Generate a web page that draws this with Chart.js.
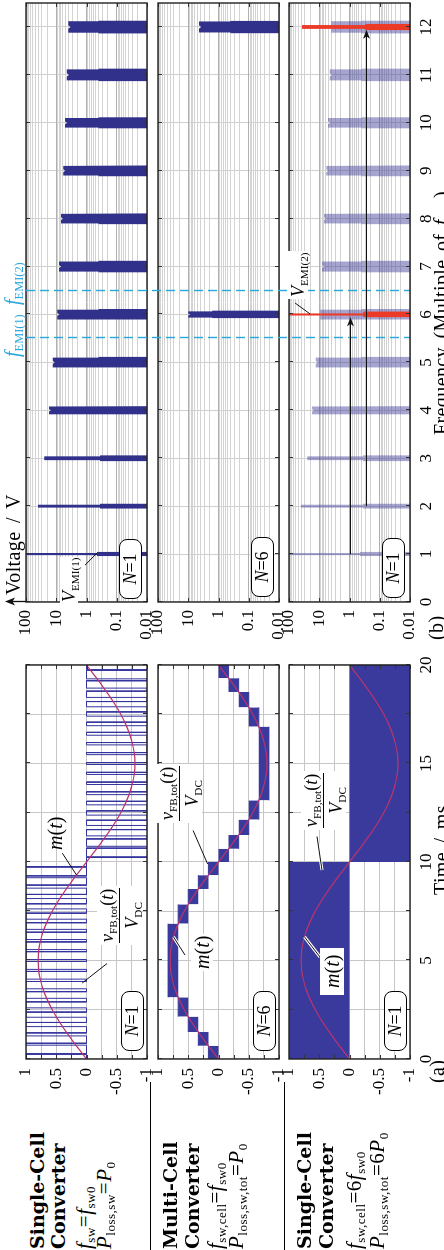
<!DOCTYPE html>
<html>
<head>
<meta charset="utf-8">
<script src="https://cdn.jsdelivr.net/npm/chart.js@4.4.1/dist/chart.umd.min.js"></script>
<style>
  html, body { margin:0; padding:0; background:#fff; width:444px; height:1250px; overflow:hidden; }
  #page { position:absolute; left:0; top:0; width:1250px; height:444px; transform-origin:0 0;
          transform:translate(0px,1250px) rotate(-90deg); background:#fff; overflow:hidden;
          font-family:'Liberation Serif','Times New Roman',serif; color:#000; }
  #page canvas { position:absolute; top:0; }
  .t { position:absolute; white-space:nowrap; line-height:1; }
  .t sub { font-size:0.62em; vertical-align:baseline; position:relative; top:0.32em; line-height:0; }
  .cap { font-family:'DejaVu Serif',serif; font-weight:bold; font-size:19px; }
  .eq { font-size:21px; letter-spacing:0.5px; }
  .frac { text-align:center; font-size:18px; background:#fff; padding:1px 2px; }
  .frac .num { border-bottom:1px solid #000; padding:0 1px 3px; }
  .frac .den { padding-top:3px; }
  .wb { background:#fff; font-size:20px; }
  .box { border:1.2px solid #000; border-radius:8px; background:#fff; font-size:18px; text-align:center;
         height:21px; line-height:21px; width:58px; }
  .sep { position:absolute; left:0; width:168px; height:0; border-top:1.3px solid #000; }
  .cyan { color:#2ba6de; font-size:20px; }
  .ax { font-size:20px; letter-spacing:0.4px; word-spacing:3px; }
</style>
</head>
<body>
<div id="page">
  <canvas id="timeN1" width="460" height="444" style="left:140px"></canvas>
  <canvas id="timeN6" width="460" height="444" style="left:140px"></canvas>
  <canvas id="timeHF" width="460" height="444" style="left:140px"></canvas>
  <canvas id="specN1" width="650" height="444" style="left:600px"></canvas>
  <canvas id="specN6" width="650" height="444" style="left:600px"></canvas>
  <canvas id="specHF" width="650" height="444" style="left:600px"></canvas>

  <!-- converter captions -->
  <div class="t cap" style="left:1px;top:28px">Single-Cell</div>
  <div class="t cap" style="left:1px;top:49px">Converter</div>
  <div class="t eq" style="left:1px;top:74px"><i>f</i><sub>sw</sub>=<i>f</i><sub>sw0</sub></div>
  <div class="t eq" style="left:1px;top:94px"><i>P</i><sub>loss,sw</sub>=<i>P</i><sub>0</sub></div>
  <div class="sep" style="top:150px"></div>

  <div class="t cap" style="left:1px;top:161px">Multi-Cell</div>
  <div class="t cap" style="left:1px;top:183px">Converter</div>
  <div class="t eq" style="left:1px;top:205px"><i>f</i><sub>sw,cell</sub>=<i>f</i><sub>sw0</sub></div>
  <div class="t eq" style="left:1px;top:226px"><i>P</i><sub>loss,sw,tot</sub>=<i>P</i><sub>0</sub></div>
  <div class="sep" style="top:284px"></div>

  <div class="t cap" style="left:1px;top:295px">Single-Cell</div>
  <div class="t cap" style="left:1px;top:317px">Converter</div>
  <div class="t eq" style="left:1px;top:344px"><i>f</i><sub>sw,cell</sub>=6<i>f</i><sub>sw0</sub></div>
  <div class="t eq" style="left:1px;top:367px"><i>P</i><sub>loss,sw,tot</sub>=6<i>P</i><sub>0</sub></div>

  <!-- time-domain annotations -->
  <div class="t frac" style="left:305px;top:97px"><div class="num"><i>v</i><sub>FB,tot</sub>(<i>t</i>)</div><div class="den"><i>V</i><sub>DC</sub></div></div>
  <div class="t wb" style="left:400px;top:45px;background:none"><i>m</i>(<i>t</i>)</div>
  <div class="t box" style="left:199px;top:121px"><i>N</i>=1</div>

  <div class="t frac" style="left:427px;top:157px"><div class="num"><i>v</i><sub>FB,tot</sub>(<i>t</i>)</div><div class="den"><i>V</i><sub>DC</sub></div></div>
  <div class="t wb" style="left:279px;top:191px;padding:1px 2px"><i>m</i>(<i>t</i>)</div>
  <div class="t box" style="left:199px;top:253px"><i>N</i>=6</div>

  <div class="t frac" style="left:420px;top:301px"><div class="num"><i>v</i><sub>FB,tot</sub>(<i>t</i>)</div><div class="den"><i>V</i><sub>DC</sub></div></div>
  <div class="t wb" style="left:255px;top:320px;padding:2px 7px"><i>m</i>(<i>t</i>)</div>
  <div class="t box" style="left:199px;top:384px"><i>N</i>=1</div>

  <!-- spectrum annotations -->
  <div class="t ax" style="left:655px;top:3px">Voltage / V</div>
  <div class="t cyan" style="left:893px;top:2px"><i>f</i><sub>EMI(1)</sub></div>
  <div class="t cyan" style="left:945px;top:2px"><i>f</i><sub>EMI(2)</sub></div>
  <div class="t wb" style="left:647px;top:60px;font-size:18px;padding:0 1px"><i>V</i><sub>EMI(1)</sub></div>
  <div class="t box" style="left:651px;top:119px"><i>N</i>=1</div>
  <div class="t box" style="left:653px;top:251px"><i>N</i>=6</div>
  <div class="t box" style="left:652px;top:382px"><i>N</i>=1</div>
  <div class="t wb" style="left:951px;top:288px;font-size:18px;padding:1px 2px"><i>V</i><sub>EMI(2)</sub></div>

  <!-- axis titles -->
  <div class="t ax" style="left:167px;top:427px">(a)</div>
  <div class="t ax" style="left:355px;top:431px">Time / ms</div>
  <div class="t ax" style="left:610px;top:426px">(b)</div>
  <div class="t ax" style="left:637px;width:600px;text-align:center;top:431px">Frequency (Multiple of <i>f</i><sub>sw0</sub>)</div>
</div>

<script>
// ---------------- (a) time domain ----------------
const timeGrid = [0, 2.5, 5, 7.5, 10, 12.5, 15, 17.5, 20];
const timeTickLabels = ['0', '', '5', '', '10', '', '15', '', '20'];
const ampGrid = [-1, -0.75, -0.5, -0.25, 0, 0.25, 0.5, 0.75, 1];
const ampTickLabels = ['-1', '', '-0.5', '', '0', '', '0.5', '', '1'];

// modulation index m(t), one sample every 0.5 ms
const mStepMs = 0.5;
const modulation = [0, 0.125, 0.247, 0.363, 0.470, 0.566, 0.647, 0.713, 0.761, 0.790, 0.800,
  0.790, 0.761, 0.713, 0.647, 0.566, 0.470, 0.363, 0.247, 0.125, 0,
  -0.125, -0.247, -0.363, -0.470, -0.566, -0.647, -0.713, -0.761, -0.790, -0.800,
  -0.790, -0.761, -0.713, -0.647, -0.566, -0.470, -0.363, -0.247, -0.125, 0];

// single cell at f_sw0: one pulse per 0.5 ms slot, signed duty cycle
const pulseSlotMs = 0.5;
const pulseDutyN1 = [0.06, 0.19, 0.31, 0.42, 0.52, 0.61, 0.68, 0.74, 0.78, 0.80,
  0.80, 0.78, 0.74, 0.68, 0.61, 0.52, 0.42, 0.31, 0.19, 0.06,
  -0.06, -0.19, -0.31, -0.42, -0.52, -0.61, -0.68, -0.74, -0.78, -0.80,
  -0.80, -0.78, -0.74, -0.68, -0.61, -0.52, -0.42, -0.31, -0.19, -0.06];

// six interleaved cells: output toggles inside one level band between these edges
const cellCount = 6;
const stairEdgesMs = [0, 0.67, 1.37, 2.15, 3.13, 6.87, 7.85, 8.63, 9.33, 10,
  10.67, 11.37, 12.15, 13.13, 16.87, 17.85, 18.63, 19.33, 20];
const stairBand = [1, 2, 3, 4, 5, 4, 3, 2, 1, -1, -2, -3, -4, -5, -4, -3, -2, -1];

// single cell at 6 f_sw0: pulses are so dense they fill each half cycle
const halfCycleEdgesMs = [0, 10, 20];
const halfCycleLevel = [1, -1];

// ---------------- (b) spectra ----------------
const freqGrid = [0, 1, 2, 3, 4, 5, 6, 7, 8, 9, 10, 11, 12];
const voltDecades = [0.01, 0.1, 1, 10, 100];
const voltDecadeLabels = ['0.01', '0.1', '1', '10', '100'];

// N = 1 at f_sw0: sideband clusters at every multiple of f_sw0
const harmonicsN1 = [1, 2, 3, 4, 5, 6, 7, 8, 9, 10, 11, 12];
const peakN1  = [100, 40, 25, 17.4, 13.1, 9.2, 8.1, 7.0, 5.9, 5.1, 4.5, 4.0];      // V
const kneeN1  = [0.45, 0.36, 0.36, 0.4, 0.4, 0.4, 0.4, 0.4, 0.4, 0.4, 0.4, 0.4];    // V
const coreN1  = [0.022, 0.03, 0.04, 0.08, 0.1, 0.1, 0.105, 0.1, 0.1, 0.1, 0.115, 0.12];   // half spread / f_sw0
const skirtN1 = [0.045, 0.05, 0.06, 0.09, 0.115, 0.115, 0.12, 0.115, 0.115, 0.115, 0.13, 0.135];

// N = 6 interleaved cells: only clusters at 6 and 12 remain
const harmonicsN6 = [6, 12];
const peakN6  = [10, 4.4];
const kneeN6  = [1.6, 0.4];
const coreN6  = [0.065, 0.115];
const skirtN6 = [0.08, 0.13];

// single cell at 6 f_sw0
const harmonicsHF = [6, 12];
const peakHF  = [100, 37];
const kneeHF  = [0.35, 0.3];
const coreHF  = [0.022, 0.04];
const skirtHF = [0.06, 0.065];

// harmonic shift arrows: from, to, level (V)
const shiftFrom = [1, 2];
const shiftTo = [5.94, 11.94];
const shiftLevel = [0.95, 0.285];

// EMI measurement band edges
const emiBand = [5.5, 6.5];

// ---------------- styling / layout ----------------
const FONT = "'Liberation Serif','Times New Roman',serif";
const TICK_FONT = { family: FONT, size: 17 };
const ROW_TOP = [26, 158, 289];
const ROW_BOTTOM = [147, 279, 410];
const PAGE_H = 444;
const AXIS_H = 34;
const C = {
  pwm: '#34349e', fillBlue: '#3a3a9c', bar: '#31318b', faded: 'rgba(55,55,150,0.45)',
  red: '#ec3a28', mod: '#b8346e', cyan: '#2ba6de', grid: '#c6c6c6',
  logMajor: '#b0b0b0', logMinor: '#d3d3d3'
};

// log grid positions 1..9 x 10^n between the decades
const voltGrid = [];
for (let e = -2; e < 2; e++) for (let k = 1; k < 10; k++) voltGrid.push(+(k * Math.pow(10, e)).toPrecision(2));
voltGrid.push(100);

// ---------------- helpers ----------------
function modPoints() {
  return modulation.map((v, i) => ({ x: i * mStepMs, y: v }));
}
function pwmPoints(duties, slot) {
  const pts = [{ x: 0, y: 0 }];
  duties.forEach((d, k) => {
    const c = (k + 0.5) * slot, h = Math.abs(d) * slot / 2, lv = Math.sign(d);
    pts.push({ x: c - h, y: 0 }, { x: c - h, y: lv }, { x: c + h, y: lv }, { x: c + h, y: 0 });
  });
  pts.push({ x: 20, y: 0 });
  return pts;
}
function clusterPath(f, peak, core, knee, skirt) {
  const lo = 0.01, pts = [];
  pts.push({ x: f - skirt, y: lo }, { x: f - skirt, y: knee }, { x: f - core, y: knee }, { x: f - core, y: peak });
  if (core > 0.06) pts.push({ x: f - core * 0.3, y: peak }, { x: f, y: peak * 0.85 }, { x: f + core * 0.3, y: peak });
  pts.push({ x: f + core, y: peak }, { x: f + core, y: knee }, { x: f + skirt, y: knee }, { x: f + skirt, y: lo });
  return pts;
}
function clusterSet(freqs, peaks, knees, cores, skirts, color, order) {
  let pts = [];
  freqs.forEach((f, i) => { pts = pts.concat(clusterPath(f, peaks[i], cores[i], knees[i], skirts[i])); });
  return { data: pts, fill: 'start', backgroundColor: color, borderColor: 'rgba(0,0,0,0)', borderWidth: 0, order };
}

function decor(id, cfg) {
  return {
    id,
    afterDatasetsDraw(chart) {
      const { ctx, chartArea: a } = chart;
      const xs = chart.scales.x, ys = chart.scales.y;
      const X = v => xs.getPixelForValue(v), Y = v => ys.getPixelForValue(v);
      ctx.save();
      (cfg.bandLines || []).forEach(f => {
        const p = Math.round(X(f)) + 0.5;
        ctx.strokeStyle = C.cyan; ctx.lineWidth = 1.4; ctx.setLineDash([9, 5]);
        ctx.beginPath(); ctx.moveTo(p, cfg.bandTop); ctx.lineTo(p, a.bottom); ctx.stroke();
      });
      ctx.setLineDash([]);
      ctx.strokeStyle = '#333'; ctx.lineWidth = 1;
      ctx.beginPath();
      cfg.xTicks.forEach(v => { const p = Math.round(X(v)) + 0.5; ctx.moveTo(p, a.top); ctx.lineTo(p, a.top + 4); ctx.moveTo(p, a.bottom); ctx.lineTo(p, a.bottom - 4); });
      cfg.yTicks.forEach(v => { const p = Math.round(Y(v)) + 0.5; ctx.moveTo(a.left, p); ctx.lineTo(a.left + 4, p); ctx.moveTo(a.right, p); ctx.lineTo(a.right - 4, p); });
      ctx.stroke();
      ctx.strokeStyle = '#222'; ctx.lineWidth = 1.4;
      ctx.strokeRect(a.left, a.top, a.right - a.left, a.bottom - a.top);
      (cfg.leaders || []).forEach(L => {
        const x1 = X(L[0]), y1 = Y(L[1]), x2 = X(L[2]), y2 = Y(L[3]);
        if (L[4]) { ctx.strokeStyle = '#fff'; ctx.lineWidth = 3.2; ctx.beginPath(); ctx.moveTo(x1, y1); ctx.lineTo(x2, y2); ctx.stroke(); }
        ctx.strokeStyle = '#111'; ctx.lineWidth = 1; ctx.beginPath(); ctx.moveTo(x1, y1); ctx.lineTo(x2, y2); ctx.stroke();
      });
      (cfg.arrows || []).forEach(A => {
        const x1 = X(A[0]), x2 = X(A[1]), y = Math.round(Y(A[2])) + 0.5;
        ctx.strokeStyle = '#111'; ctx.fillStyle = '#111'; ctx.lineWidth = 1;
        ctx.beginPath(); ctx.moveTo(x1, y); ctx.lineTo(x2 - 6, y); ctx.stroke();
        ctx.beginPath(); ctx.moveTo(x2, y); ctx.lineTo(x2 - 9, y - 3.5); ctx.lineTo(x2 - 6.5, y); ctx.lineTo(x2 - 9, y + 3.5); ctx.closePath(); ctx.fill();
      });
      if (cfg.axisArrow) {
        const x = Math.round(a.left) + 0.5;
        ctx.strokeStyle = '#111'; ctx.fillStyle = '#111'; ctx.lineWidth = 1.3;
        ctx.beginPath(); ctx.moveTo(x, a.top); ctx.lineTo(x, 12); ctx.stroke();
        ctx.beginPath(); ctx.moveTo(x, 5); ctx.lineTo(x - 4, 15); ctx.lineTo(x, 12.5); ctx.lineTo(x + 4, 15); ctx.closePath(); ctx.fill();
      }
      ctx.restore();
    }
  };
}

function baseOptions(row, right) {
  const xh = row === 2 ? AXIS_H : 0;
  return {
    responsive: false, animation: false, devicePixelRatio: 1, events: [],
    layout: { autoPadding: false, padding: { left: 0, right, top: ROW_TOP[row], bottom: PAGE_H - ROW_BOTTOM[row] - xh } },
    plugins: { legend: { display: false }, tooltip: { enabled: false } },
    elements: { point: { radius: 0 }, line: { tension: 0 } }
  };
}

function timeChart(id, row, datasets, cfg) {
  const opts = baseOptions(row, 15);
  opts.scales = {
    x: {
      type: 'linear', min: 0, max: 20,
      afterBuildTicks: s => { s.ticks = timeGrid.map(v => ({ value: v })); },
      afterFit: s => { s.height = row === 2 ? AXIS_H : 0; },
      grid: { color: C.grid, drawTicks: false }, border: { display: false },
      ticks: { display: row === 2, padding: 6, autoSkip: false, maxRotation: 0, color: '#000', font: TICK_FONT,
               callback: (v, i) => timeTickLabels[i] }
    },
    y: {
      type: 'linear', min: -1, max: 1,
      afterBuildTicks: s => { s.ticks = ampGrid.map(v => ({ value: v })); },
      afterFit: s => { s.width = 51; },
      grid: { color: C.grid, drawTicks: false }, border: { display: false },
      ticks: { padding: 9, autoSkip: false, color: '#000', font: TICK_FONT, callback: (v, i) => ampTickLabels[i] }
    }
  };
  return new Chart(document.getElementById(id), {
    type: 'line', data: { datasets }, options: opts,
    plugins: [decor('d_' + id, Object.assign({ xTicks: timeGrid, yTicks: ampGrid }, cfg))]
  });
}

function specChart(id, row, datasets, cfg) {
  const opts = baseOptions(row, 3);
  opts.scales = {
    x: {
      type: 'linear', min: 0, max: 12.5,
      afterBuildTicks: s => { s.ticks = freqGrid.map(v => ({ value: v })); },
      afterFit: s => { s.height = row === 2 ? AXIS_H : 0; },
      grid: { color: '#cfcfcf', drawTicks: false }, border: { display: false },
      ticks: { display: row === 2, padding: 6, autoSkip: false, maxRotation: 0, color: '#000', font: TICK_FONT,
               callback: v => String(v) }
    },
    y: {
      type: 'logarithmic', min: 0.01, max: 100,
      afterBuildTicks: s => { s.ticks = voltGrid.map(v => ({ value: v, major: voltDecades.includes(v) })); },
      afterFit: s => { s.width = 48; },
      grid: { color: c => (c.tick && c.tick.major) ? C.logMajor : C.logMinor, drawTicks: false }, border: { display: false },
      ticks: { padding: 8, autoSkip: false, color: '#000', font: TICK_FONT,
               callback: v => { const i = voltDecades.indexOf(v); return i >= 0 ? voltDecadeLabels[i] : ''; } }
    }
  };
  return new Chart(document.getElementById(id), {
    type: 'line', data: { datasets }, options: opts,
    plugins: [decor('d_' + id, Object.assign({ xTicks: freqGrid, yTicks: voltDecades }, cfg))]
  });
}

const modSet = () => ({ data: modPoints(), borderColor: C.mod, borderWidth: 1.2, tension: 0.4, fill: false, order: 0 });

// ---- (a) row 1: single cell, f_sw0
timeChart('timeN1', 0, [
  modSet(),
  { data: pwmPoints(pulseDutyN1, pulseSlotMs), borderColor: C.pwm, borderWidth: 1, fill: false, order: 1 }
], { leaders: [[3.86, 0.07, 4.85, -0.34], [9.34, 0.165, 10.45, 0.40]] });

// ---- (a) row 2: six cells
const stairSets = stairBand.map((b, i) => {
  const hi = b / cellCount, lo = (b > 0 ? b - 1 : b + 1) / cellCount;
  return { data: [{ x: stairEdgesMs[i], y: hi }, { x: stairEdgesMs[i + 1], y: hi }],
           fill: { value: lo }, backgroundColor: C.fillBlue, borderColor: C.fillBlue, borderWidth: 1, order: 1 };
});
timeChart('timeN6', 1, [modSet()].concat(stairSets),
  { leaders: [[9.9, 0.18, 11.6, 0.42, false], [6.2, 0.744, 5.28, 0.554, true]] });

// ---- (a) row 3: single cell, 6 f_sw0
const halfSets = halfCycleLevel.map((lv, i) => ({
  data: [{ x: halfCycleEdgesMs[i], y: lv }, { x: halfCycleEdgesMs[i + 1], y: lv }],
  fill: 'origin', backgroundColor: C.fillBlue, borderColor: C.fillBlue, borderWidth: 1, order: 1
}));
timeChart('timeHF', 2, [modSet()].concat(halfSets),
  { leaders: [[9.59, 0.455, 11.3, 0.537, true], [6.2, 0.744, 5.18, 0.488, true]] });

// ---- (b) row 1
specChart('specN1', 0, [
  clusterSet(harmonicsN1, peakN1, kneeN1, coreN1, skirtN1, C.bar, 1)
], { axisArrow: true, leaders: [[0.77, 1.12, 1.02, 0.45]] });

// ---- (b) row 2
specChart('specN6', 1, [
  clusterSet(harmonicsN6, peakN6, kneeN6, coreN6, skirtN6, C.bar, 1)
], {});

// ---- (b) row 3
specChart('specHF', 2, [
  clusterSet(harmonicsHF, peakHF, kneeHF, coreHF, skirtHF, C.red, 0),
  clusterSet(harmonicsN1, peakN1, kneeN1, coreN1, skirtN1, C.faded, 1)
], {
  bandLines: emiBand, bandTop: ROW_TOP[0],
  leaders: [[6.24, 63, 6.01, 20]],
  arrows: shiftFrom.map((f, i) => [f, shiftTo[i], shiftLevel[i]])
});
</script>
</body>
</html>
